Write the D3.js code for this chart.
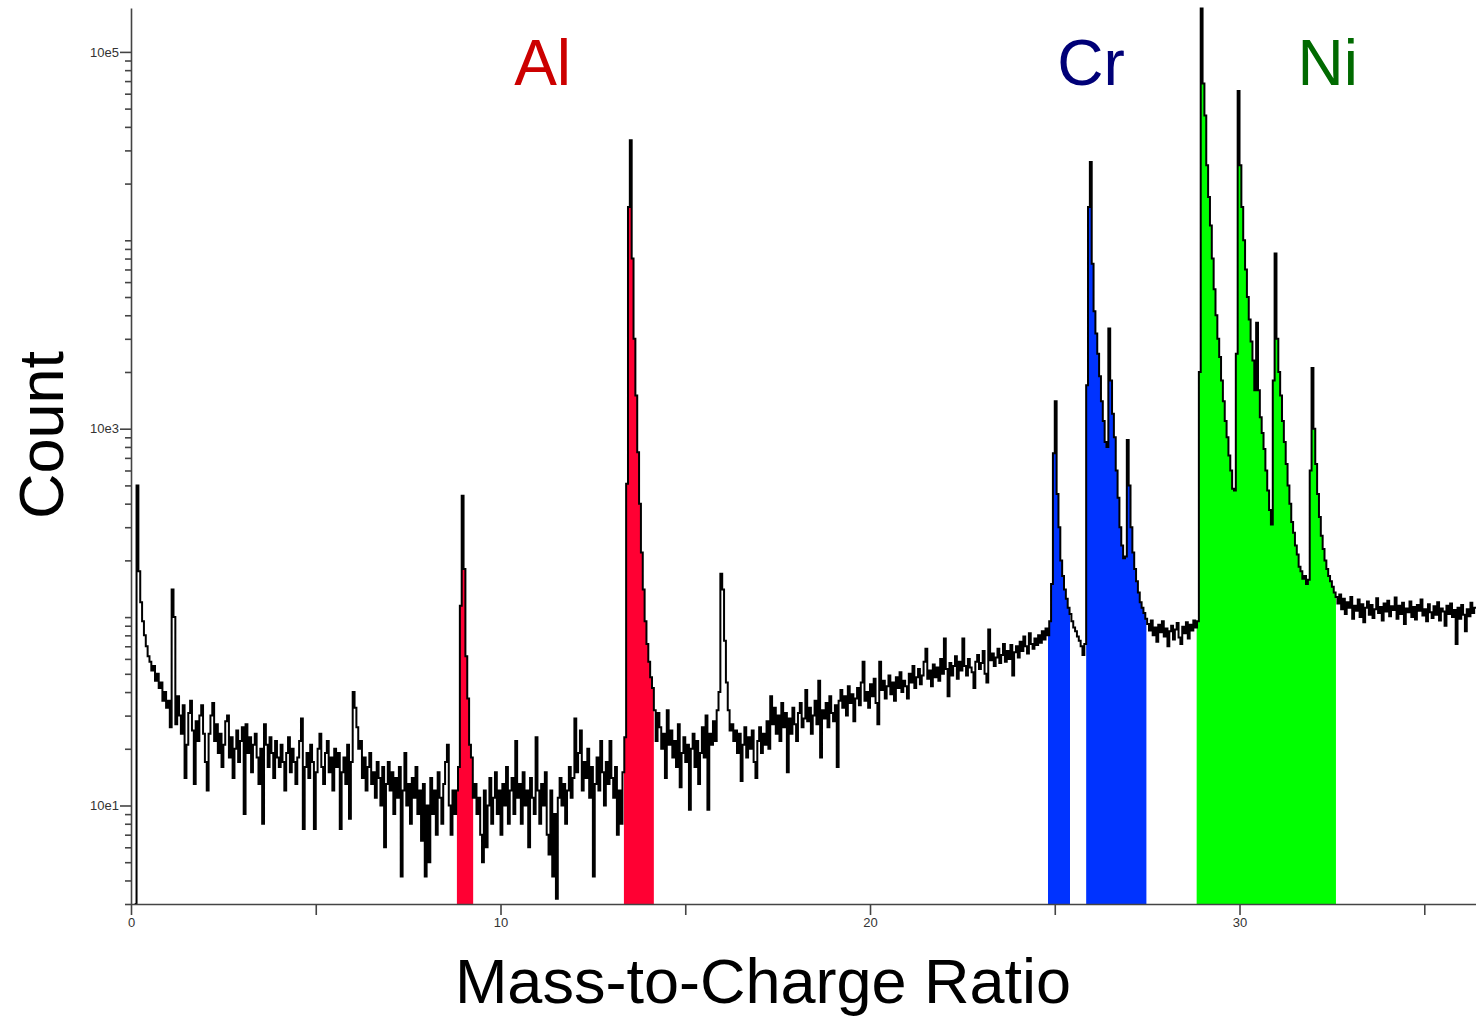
<!DOCTYPE html>
<html>
<head>
<meta charset="utf-8">
<script src="https://cdn.jsdelivr.net/npm/d3@7"></script>
<style>
  body { margin: 0; background: #fff; }
  svg { display: block; font-family: "Liberation Sans", Arial, sans-serif; }
  .axis .domain, .axis line { stroke: #444; stroke-width: 1.6; }
  .axis text { fill: #333; font-size: 13px; font-family: "Liberation Sans", Arial, sans-serif; }
</style>
</head>
<body>
<svg id="chart"></svg>
<script>
// spectrum counts, binned every 0.05 in m/z
const binWidth = 0.05;

const lowMassStart = 0.10;
const lowMassCounts = [3, 500, 175, 120, 95, 80, 70, 62, 58, 52, 55, 46, 50, 42, 45, 36, 40, 33, 36, 26,
  140, 100, 27, 38, 30, 24, 34, 14, 21, 31, 36, 25, 13, 28, 22, 30, 34, 24];

const band2Start = 2.00;
const band2Counts = [17, 12, 24, 30, 35, 22, 27, 19, 24, 16, 21, 28, 30, 18, 23, 14, 20, 25, 17, 22,
  26, 9, 27, 19, 23, 15, 21, 24, 18, 13, 20, 8, 27, 21, 16, 23, 19, 14, 22, 18];

const band4Start = 4.00;
const band4Counts = [16, 21, 17, 12, 19, 23, 15, 20, 17, 13, 18, 22, 29, 7.5, 16, 19, 14, 21, 17, 7.5,
  15, 20, 24, 16, 13, 19, 22, 15, 18, 12, 20, 16, 19, 7.5, 15, 18, 13, 21, 8.5, 17,
  40, 33, 26, 20, 22];

const band6Start = 6.25;
const band6Counts = [14, 18, 12, 16, 19, 13, 15, 11, 17, 14, 10, 16, 6, 13, 17, 12, 15, 9, 14, 11,
  16, 4.2, 12, 19, 10, 13, 8, 14, 11, 16, 9, 12, 6.5, 13, 4.2, 10, 5, 14, 9, 12,
  7, 15, 11, 8, 13, 17, 21, 10, 7, 12, 9];

const al3Start = 8.80;
const al3Counts = [12, 16, 115, 440, 180, 62, 37, 21, 18, 11];

const band9Start = 9.30;
const band9Counts = [13, 9, 11, 7, 5, 12, 6, 10, 14, 8, 11, 15, 9, 12, 7, 13, 10, 16, 8, 12,
  14, 9, 22, 11, 13, 8, 15, 10, 12, 6, 14, 11, 9, 23, 12, 8, 13, 10, 15, 7,
  5.5, 12, 4.2, 9, 3.2, 11, 14, 10, 13, 8, 12, 16, 11, 14, 29, 15, 19, 25, 12, 17,
  14, 20, 11, 16, 4.2, 13, 18, 12, 22, 15, 10, 17, 13, 22, 14, 11, 16, 7, 12, 8];

const al2Start = 13.30;
const al2Counts = [15, 23, 510, 15000, 34000, 8000, 3000, 1500, 750, 400, 220, 140, 95, 72, 58, 48, 42, 32];

const band14Start = 14.20;
const band14Counts = [22, 31, 26, 20, 24, 14, 32, 21, 25, 18, 22, 16, 27, 12.5, 19, 23, 17, 21, 9.5, 20,
  24, 16, 22, 13, 19, 26, 18, 30, 9.5, 24, 21, 28, 22, 32];

const oxygenStart = 15.90;
const oxygenCounts = [40, 170, 140, 75, 45, 32, 25];

const band16Start = 16.25;
const band16Counts = [27, 22, 25, 19, 24, 13.5, 21, 26, 18, 23, 20, 25, 17, 14, 22, 26, 19, 24, 21, 28,
  20, 38, 27, 33, 24, 30, 22, 35, 26, 31, 15, 29, 24, 33, 27, 22, 31, 35, 26, 29,
  41, 28, 33, 24, 30, 36, 27, 46, 18, 32, 29, 35, 26, 38, 31, 28, 34, 16, 36, 41,
  33, 38, 30, 43, 35, 39, 28, 37, 42, 34, 45, 58, 36, 40, 33, 44, 38, 47, 35, 27];

const band20Start = 20.25;
const band20Counts = [58, 41, 46, 37, 43, 49, 39, 45, 36, 48, 42, 51, 40, 46, 43, 37, 50, 45, 55, 42,
  48, 53, 44, 49, 58, 68, 47, 52, 43, 56, 48, 54, 46, 60, 50, 77, 53, 38, 57, 49,
  55, 62, 47, 58, 52, 77, 55, 49, 60, 54, 51, 42, 58, 63, 53, 57, 66, 50, 45, 86,
  59, 64, 55, 61, 68, 57, 63, 72, 58, 66, 60, 71, 49, 65, 70, 61, 74, 66, 79, 70,
  64, 82, 72, 68, 77, 71, 80, 73, 84, 76, 87];

const crStart = 24.80;
const crCounts = [80, 95, 150, 740, 1400, 450, 300, 200, 165, 140, 125, 112, 104, 95, 88, 84, 79, 75, 70, 63,
  72, 1700, 15000, 26000, 7500, 4200, 3200, 2500, 1900, 1400, 1100, 850, 800, 3400, 1800, 1200, 900, 600, 430, 300,
  240, 205, 210, 870, 500, 300, 220, 180, 155, 135, 120, 112, 105, 98];

const band27Start = 27.50;
const band27Counts = [92, 85, 96, 80, 88, 74, 91, 83, 95, 79, 87, 70, 84, 90, 76, 86, 93, 78, 72, 89,
  82, 94, 77, 91, 85, 96, 88];

const niStart = 28.85;
const niCounts = [95, 2000, 170000, 68000, 46000, 25000, 17000, 12000, 8000, 5500,
  4000, 3000, 2400, 1800, 1400, 1100, 900, 720, 600, 480,
  470, 2500, 62000, 25000, 15000, 10000, 7000, 5000, 3800, 2900,
  2300, 1600, 3650, 1600, 1150, 950, 780, 600, 470, 370,
  310, 1800, 8500, 3000, 2000, 1500, 1100, 850, 650, 500,
  400, 320, 280, 240, 215, 185, 175, 160, 165, 150,
  158, 600, 2100, 1000, 650, 450, 340, 270, 230, 200,
  180, 165, 155, 145, 135, 128];

const tailStart = 32.65;
const tailCounts = [118, 132, 110, 125, 104, 120, 112, 128, 98, 115, 108, 124, 100, 117, 94, 112, 121, 103, 116, 99,
  110, 126, 105, 113, 96, 118, 107, 122, 101, 114, 109, 127, 98, 115, 104, 119, 92, 111, 106, 121,
  100, 113, 97, 116, 108, 124, 102, 110, 95, 117, 106, 99, 114, 103, 120, 96, 111, 107, 90, 115,
  104, 118, 100, 109, 72, 112, 98, 116, 103, 84, 110, 101, 119, 105, 112];

const massEnd = 36.40;

// highlighted isotope windows (m/z ranges)
const alRanges = [[8.82, 9.26], [13.34, 14.15]];
const crRanges = [[24.82, 25.41], [25.85, 27.48]];
const niRanges = [[28.84, 32.61]];

const xTicks = [0, 5, 10, 15, 20, 25, 30, 35];
const yMajorTicks = [10, 1000, 100000];
const yMajorLabels = ["10e1", "10e3", "10e5"];

const elementNames = ["Al", "Cr", "Ni"];

// ---- build ----
const W = 1476, H = 1016;
const svg = d3.select("#chart").attr("width", W).attr("height", H);

const segments = [
  [lowMassStart, lowMassCounts], [band2Start, band2Counts], [band4Start, band4Counts],
  [band6Start, band6Counts], [al3Start, al3Counts], [band9Start, band9Counts],
  [al2Start, al2Counts], [band14Start, band14Counts], [oxygenStart, oxygenCounts],
  [band16Start, band16Counts], [band20Start, band20Counts], [crStart, crCounts],
  [band27Start, band27Counts], [niStart, niCounts], [tailStart, tailCounts]
];
const bins = segments.flatMap(([start, counts]) =>
  counts.map((c, i) => ({ mz: +(start + i * binWidth).toFixed(2), c })));
bins.push({ mz: massEnd, c: bins[bins.length - 1].c });

const x = d3.scaleLinear().domain([0, massEnd]).range([131, 1476]);
const y = d3.scaleLog().domain([3, 171000]).range([904, 8]);
const yMin = y.domain()[0];

const area = d3.area()
  .x(d => x(d.mz))
  .y0(y(yMin))
  .y1(d => y(Math.max(d.c, yMin)))
  .curve(d3.curveStepAfter);

const line = d3.line()
  .x(d => x(d.mz))
  .y(d => y(Math.max(d.c, yMin)))
  .curve(d3.curveStepAfter);

const defs = svg.append("defs");
const fills = [
  { ranges: alRanges, color: "#ff0033" },
  { ranges: crRanges, color: "#0033ff" },
  { ranges: niRanges, color: "#00ff00" }
];
let clipId = 0;
fills.forEach(f => {
  f.ranges.forEach(([a, b]) => {
    const id = "clip" + (clipId++);
    defs.append("clipPath").attr("id", id)
      .append("rect")
      .attr("x", x(a)).attr("y", 0)
      .attr("width", x(b) - x(a)).attr("height", H);
    svg.append("path")
      .datum(bins)
      .attr("clip-path", `url(#${id})`)
      .attr("fill", f.color)
      .attr("d", area);
  });
});

svg.append("path")
  .datum(bins)
  .attr("fill", "none")
  .attr("stroke", "#000")
  .attr("stroke-width", 2)
  .attr("stroke-linejoin", "miter")
  .attr("d", line);

// axes
const xAxis = d3.axisBottom(x)
  .tickValues(xTicks)
  .tickSize(11)
  .tickSizeOuter(0)
  .tickPadding(3)
  .tickFormat(d => d % 10 === 0 ? d : "");
svg.append("g").attr("class", "axis")
  .attr("transform", `translate(0,${y(yMin)})`)
  .call(xAxis);

const yMinor = [];
for (let p = 0; p <= 5; p++) {
  for (let k = 1; k <= 9; k++) {
    const v = k * Math.pow(10, p);
    if (v >= yMin && v <= y.domain()[1] && !yMajorTicks.includes(v)) yMinor.push(v);
  }
}
svg.append("g").attr("class", "axis")
  .attr("transform", `translate(${x(0)},0)`)
  .call(d3.axisLeft(y).tickValues(yMinor).tickSize(6).tickSizeOuter(0).tickFormat(""))
  .call(g => g.select(".domain").remove());

svg.append("g").attr("class", "axis")
  .attr("transform", `translate(${x(0)},0)`)
  .call(d3.axisLeft(y).tickValues(yMajorTicks).tickSize(11).tickSizeOuter(0).tickPadding(1)
    .tickFormat((d, i) => yMajorLabels[i]));

// axis titles
svg.append("text")
  .attr("x", 763).attr("y", 1003)
  .attr("text-anchor", "middle")
  .attr("font-size", 63)
  .attr("fill", "#000")
  .text("Mass-to-Charge Ratio");

svg.append("text")
  .attr("transform", "translate(63,435) rotate(-90)")
  .attr("text-anchor", "middle")
  .attr("font-size", 63)
  .attr("fill", "#000")
  .text("Count");

// element labels
const labelPos = [10.37, 25.07, 31.57];
const labelColor = ["#cc0000", "#000077", "#006a00"];
svg.selectAll(".elem")
  .data(elementNames)
  .join("text")
  .attr("class", "elem")
  .attr("x", (d, i) => x(labelPos[i]))
  .attr("y", 85)
  .attr("font-size", 64)
  .attr("fill", (d, i) => labelColor[i])
  .text(d => d);
</script>
</body>
</html>
